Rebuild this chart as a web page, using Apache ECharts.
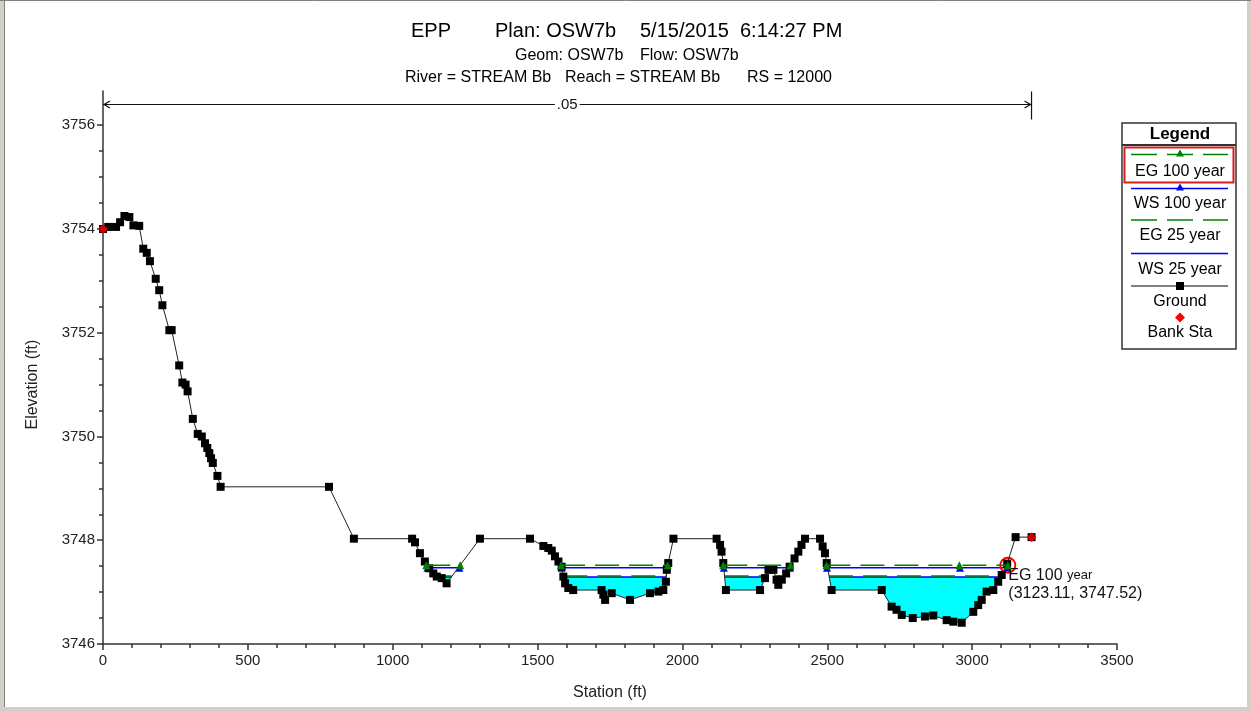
<!DOCTYPE html>
<html>
<head>
<meta charset="utf-8">
<script src="https://cdn.jsdelivr.net/npm/echarts@6/dist/echarts.min.js"></script>
<style>
html,body{margin:0;padding:0;background:#fff;}
#chart{width:1251px;height:711px;}
</style>
</head>
<body>
<div id="chart"></div>
<script>
// ---------------- DATA ----------------
const titleParts = [
  ['EPP', 'Plan: OSW7b', '5/15/2015', '6:14:27 PM'],
  ['Geom: OSW7b', 'Flow: OSW7b'],
  ['River = STREAM Bb', 'Reach = STREAM Bb', 'RS = 12000']
];
const xAxisName = 'Station (ft)';
const yAxisName = 'Elevation (ft)';
const xRange = [0, 3500, 500];
const yRange = [3746, 3756, 2];
const yAxisTop = 3756.66;

const groundPoints = [
  [0, 3754.00], [18, 3754.04], [45, 3754.04], [59, 3754.13], [74, 3754.25], [91, 3754.23],
  [105, 3754.07], [125, 3754.06], [139, 3753.62], [151, 3753.54], [162, 3753.38], [182, 3753.04],
  [194, 3752.82], [205, 3752.53], [229, 3752.05], [237, 3752.05], [263, 3751.37], [274, 3751.04],
  [285, 3751.00], [292, 3750.87], [310, 3750.34], [327, 3750.05], [341, 3750.00], [352, 3749.87],
  [360, 3749.78], [367, 3749.68], [373, 3749.58], [379, 3749.49], [395, 3749.24], [406, 3749.03],
  [780, 3749.03], [866, 3748.03], [1067, 3748.03], [1077, 3747.96], [1094, 3747.75], [1111, 3747.59],
  [1126, 3747.46], [1140, 3747.36], [1152, 3747.30], [1169, 3747.27], [1186, 3747.17], [1301, 3748.03],
  [1474, 3748.03], [1520, 3747.89], [1537, 3747.85], [1549, 3747.80], [1560, 3747.69], [1572, 3747.59],
  [1583, 3747.49], [1589, 3747.30], [1595, 3747.17], [1606, 3747.08], [1623, 3747.04], [1721, 3747.04],
  [1727, 3746.95], [1733, 3746.85], [1756, 3746.98], [1819, 3746.85], [1888, 3746.98], [1917, 3747.01],
  [1934, 3747.04], [1943, 3747.20], [1946, 3747.43], [1951, 3747.56], [1969, 3748.03], [2118, 3748.03],
  [2130, 3747.91], [2135, 3747.78], [2141, 3747.56], [2150, 3747.04], [2268, 3747.04], [2285, 3747.27],
  [2297, 3747.43], [2314, 3747.43], [2325, 3747.24], [2331, 3747.14], [2343, 3747.24], [2358, 3747.36],
  [2370, 3747.49], [2387, 3747.65], [2400, 3747.78], [2411, 3747.91], [2423, 3748.03], [2475, 3748.03],
  [2484, 3747.88], [2492, 3747.75], [2498, 3747.56], [2515, 3747.04], [2688, 3747.04], [2722, 3746.72],
  [2739, 3746.66], [2757, 3746.56], [2795, 3746.50], [2837, 3746.53], [2866, 3746.55], [2912, 3746.46],
  [2935, 3746.43], [2964, 3746.41], [3004, 3746.62], [3021, 3746.75], [3033, 3746.85], [3050, 3747.01],
  [3073, 3747.04], [3090, 3747.20], [3102, 3747.33], [3121, 3747.55], [3150, 3748.06], [3205, 3748.06]
];
const bankStations = [[0, 3754.00], [3205, 3748.06]];

const profileNames = ['EG 100 year', 'WS 100 year', 'EG 25 year', 'WS 25 year', 'Ground', 'Bank Sta'];
const eg100Elev = 3747.52;
const ws100Elev = 3747.47;
const eg25Elev = 3747.31;
const ws25Elev = 3747.29;
const eg100Stations = [[1116, 1233], [1581, 1949], [2141, 2373], [2497, 2956, 3123.11]];
const ws100Stations = [[1120, 1230], [1583, 1947], [2143, 2371], [2499, 2958, 3121]];
const eg25Stations = [[1153, 1203], [1589, 1944], [2146, 2287], [2321, 2350], [2506, 3099]];
const ws25Stations = [[1153, 1203], [1589, 1944], [2146, 2287], [2321, 2350], [2506, 3099]];

const mannN = { label: '.05', from: 0, to: 3205, elev: 3756.4 };
const highlight = { name: 'EG 100 year', station: 3123.11, elev: 3747.52 };

// ---------------- STYLE ----------------
const FONT = 'Liberation Sans, Arial, sans-serif';
const GREEN = '#008000', BLUE = '#0000ff', CYAN = '#00ffff', RED = '#ff0000', AXIS = '#333';

function profileData(segs, elev) {
  const out = [];
  segs.forEach((s, i) => {
    if (i) out.push(['-', '-']);
    s.forEach(x => out.push([x, elev]));
  });
  return out;
}

const chart = echarts.init(document.getElementById('chart'), null, { renderer: 'canvas' });

// Graphic: titles
const graphics = [];
const titlePos = [
  { y: 31, size: 20, xs: [411, 495, 640, 740] },
  { y: 56, size: 16, xs: [515, 640] },
  { y: 78, size: 16, xs: [405, 565, 747] }
];
titleParts.forEach((parts, li) => {
  parts.forEach((t, i) => {
    graphics.push({
      type: 'text', x: titlePos[li].xs[i], y: titlePos[li].y, silent: true,
      style: { text: t, font: titlePos[li].size + 'px ' + FONT, fill: '#000',
        align: 'left', verticalAlign: 'middle', textAlign: 'left', textVerticalAlign: 'middle' }
    });
  });
});

// Legend box
const LX = 1122, LY = 123, LW = 114, LH = 226, LC = 1180;
graphics.push({ type: 'rect', shape: { x: LX, y: LY, width: LW, height: LH },
  style: { fill: '#fff', stroke: AXIS, lineWidth: 1.5 }, z: 10 });
graphics.push({ type: 'text', x: LC, y: 134, z: 11,
  style: { text: 'Legend', font: 'bold 17px ' + FONT, fill: '#000', align: 'center', verticalAlign: 'middle', textAlign: 'center', textVerticalAlign: 'middle' } });
graphics.push({ type: 'line', shape: { x1: LX, y1: 145, x2: LX + LW, y2: 145 }, style: { stroke: AXIS, lineWidth: 2 }, z: 11 });
graphics.push({ type: 'rect', shape: { x: 1124.5, y: 147.5, width: 109, height: 35 },
  style: { fill: 'none', stroke: '#d02020', lineWidth: 2 }, z: 12 });

const legendRows = [
  { line: 154.5, text: 171.5, color: GREEN, dash: [26, 10], sym: 'tri' },
  { line: 188.5, text: 203.5, color: BLUE, dash: null, sym: 'tri' },
  { line: 220, text: 236, color: GREEN, dash: [26, 10], sym: null },
  { line: 253.5, text: 269.5, color: BLUE, dash: null, sym: null },
  { line: 286, text: 302, color: '#000', dash: null, sym: 'sq' },
  { line: 317.5, text: 333, color: RED, dash: null, sym: 'dia', noLine: true }
];
legendRows.forEach((r, i) => {
  if (!r.noLine) {
    graphics.push({ type: 'line', z: 11, shape: { x1: 1131, y1: r.line, x2: 1228, y2: r.line },
      style: { stroke: r.color, lineWidth: r.color === '#000' ? 1 : 1.5, lineDash: r.dash || null } });
  }
  if (r.sym === 'tri') {
    graphics.push({ type: 'polygon', z: 12, shape: { points: [[LC, r.line - 5], [LC - 4, r.line + 2], [LC + 4, r.line + 2]] },
      style: { fill: r.color } });
  } else if (r.sym === 'sq') {
    graphics.push({ type: 'rect', z: 12, shape: { x: LC - 4, y: r.line - 4, width: 8, height: 8 }, style: { fill: '#000' } });
  } else if (r.sym === 'dia') {
    graphics.push({ type: 'polygon', z: 12, shape: { points: [[LC, r.line - 5], [LC + 5, r.line], [LC, r.line + 5], [LC - 5, r.line]] },
      style: { fill: RED } });
  }
  graphics.push({ type: 'text', x: LC, y: r.text, z: 12,
    style: { text: profileNames[i], font: '16px ' + FONT, fill: '#000', align: 'center', verticalAlign: 'middle', textAlign: 'center', textVerticalAlign: 'middle' } });
});

// window frame
graphics.push({ type: 'rect', shape: { x: 0, y: 0, width: 4, height: 711 }, style: { fill: '#d4d0c8' }, z: 20 });
graphics.push({ type: 'line', shape: { x1: 4.5, y1: 0, x2: 4.5, y2: 711 }, style: { stroke: '#808080', lineWidth: 1 }, z: 20 });
graphics.push({ type: 'rect', shape: { x: 1247, y: 0, width: 4, height: 711 }, style: { fill: '#d4d0c8' }, z: 20 });
graphics.push({ type: 'line', shape: { x1: 0, y1: 0.5, x2: 1251, y2: 0.5 }, style: { stroke: '#808080', lineWidth: 1 }, z: 20 });
graphics.push({ type: 'rect', shape: { x: 0, y: 707, width: 1251, height: 4 }, style: { fill: '#d4d0c8' }, z: 20 });

const plain = v => String(v);
const axisFont = { fontFamily: FONT, fontSize: 15, color: '#222', formatter: plain };
const nameFont = { fontFamily: FONT, fontSize: 16, color: '#222' };

const option = {
  animation: false,
  backgroundColor: '#fff',
  grid: [
    { left: 103, right: 134, top: 91, bottom: 67 },
    { left: 103, right: 134, top: 91 + (yAxisTop - yRange[1]) * (553 / (yAxisTop - yRange[0])), bottom: 67 }
  ],
  xAxis: [
    { type: 'value', gridIndex: 0, min: xRange[0], max: xRange[1], interval: xRange[2],
      axisLine: { onZero: false, lineStyle: { color: AXIS, width: 1.5 } },
      axisTick: { show: true, length: 6, lineStyle: { color: AXIS, width: 1.5 } },
      minorTick: { show: true, splitNumber: 5, length: 4, lineStyle: { color: AXIS, width: 1.5 } },
      axisLabel: Object.assign({ margin: 9 }, axisFont),
      splitLine: { show: false }, minorSplitLine: { show: false },
      name: xAxisName, nameLocation: 'middle', nameGap: 41, nameTextStyle: nameFont },
    { type: 'value', gridIndex: 1, min: xRange[0], max: xRange[1], show: false }
  ],
  yAxis: [
    { type: 'value', gridIndex: 0, min: yRange[0], max: yAxisTop,
      axisLine: { show: true, onZero: false, lineStyle: { color: AXIS, width: 1.5 } },
      axisTick: { show: false }, axisLabel: { show: false }, splitLine: { show: false } },
    { type: 'value', gridIndex: 1, min: yRange[0], max: yRange[1], interval: yRange[2],
      axisLine: { show: false },
      axisTick: { show: true, length: 6, lineStyle: { color: AXIS, width: 1.5 } },
      minorTick: { show: true, splitNumber: 4, length: 4, lineStyle: { color: AXIS, width: 1.5 } },
      axisLabel: Object.assign({ margin: 8 }, axisFont),
      splitLine: { show: false }, minorSplitLine: { show: false },
      name: yAxisName, nameLocation: 'middle', nameGap: 62, nameTextStyle: nameFont }
  ],
  graphic: { elements: graphics },
  series: [
    { // water fill below WS 25 year
      type: 'custom', name: 'fill', z: 1, silent: true,
      data: ws25Stations.map(s => [s[0], s[s.length - 1], ws25Elev]),
      encode: { x: [0, 1], y: 2 },
      renderItem: function (params, api) {
        const s0 = api.value(0), s1 = api.value(1), e = api.value(2);
        const pts = [[s0, e]].concat(groundPoints.filter(p => p[0] > s0 && p[0] < s1)).concat([[s1, e]]);
        return { type: 'polygon', shape: { points: pts.map(p => api.coord(p)) }, style: { fill: CYAN } };
      }
    },
    { type: 'line', name: 'WS 25 year', z: 2, data: profileData(ws25Stations, ws25Elev),
      symbol: 'none', lineStyle: { color: BLUE, width: 1.5 }, silent: true },
    { type: 'line', name: 'EG 25 year', z: 3, data: profileData(eg25Stations, eg25Elev),
      symbol: 'none', lineStyle: { color: GREEN, width: 1.5, type: [24, 10] }, silent: true },
    { type: 'line', name: 'WS 100 year', z: 4, data: profileData(ws100Stations, ws100Elev),
      symbol: 'triangle', symbolSize: 8, itemStyle: { color: BLUE }, showAllSymbol: true,
      lineStyle: { color: BLUE, width: 1.5 }, silent: true },
    { type: 'line', name: 'Ground', z: 5, data: groundPoints,
      symbol: 'rect', symbolSize: 8, showAllSymbol: true, itemStyle: { color: '#000' },
      lineStyle: { color: '#222', width: 1 }, silent: true },
    { type: 'line', name: 'EG 100 year', z: 6, data: profileData(eg100Stations, eg100Elev),
      symbol: 'triangle', symbolSize: 8, itemStyle: { color: GREEN }, showAllSymbol: true,
      lineStyle: { color: GREEN, width: 1.5, type: [24, 10] }, silent: true,
      markPoint: {
        silent: true,
        symbol: 'circle', symbolSize: 15,
        itemStyle: { color: 'rgba(0,0,0,0)', borderColor: RED, borderWidth: 2 },
        data: [{ coord: [highlight.station, highlight.elev] }],
        label: {
          show: true, position: [9, 10], align: 'left', verticalAlign: 'top',
          formatter: () => '{a|' + highlight.name.replace(' year', ' ') + '}{b|year}\n{a|(' + highlight.station.toFixed(2) + ', ' + highlight.elev.toFixed(2) + ')}',
          rich: {
            a: { fontFamily: FONT, fontSize: 16, color: '#111', lineHeight: 18 },
            b: { fontFamily: FONT, fontSize: 13, color: '#111', lineHeight: 18 }
          }
        }
      }
    },
    { type: 'scatter', name: 'Bank Sta', z: 7, data: bankStations,
      symbol: 'diamond', symbolSize: 10, itemStyle: { color: RED }, silent: true },
    { // Manning's n annotation
      type: 'custom', name: 'n', z: 4, silent: true,
      data: [[mannN.from, mannN.to, mannN.elev]],
      encode: { x: [0, 1], y: 2 },
      renderItem: function (params, api) {
        const p0 = api.coord([api.value(0), api.value(2)]);
        const p1 = api.coord([api.value(1), api.value(2)]);
        const y = p0[1], mid = (p0[0] + p1[0]) / 2;
        const st = { stroke: '#111', lineWidth: 1.2, fill: 'none' };
        return {
          type: 'group', children: [
            { type: 'line', shape: { x1: p0[0], y1: y, x2: p1[0], y2: y }, style: st },
            { type: 'line', shape: { x1: p1[0], y1: y - 13, x2: p1[0], y2: y + 15 }, style: st },
            { type: 'polyline', shape: { points: [[p0[0] + 7, y - 3.5], [p0[0] + 1, y], [p0[0] + 7, y + 3.5]] }, style: st },
            { type: 'polyline', shape: { points: [[p1[0] - 7, y - 3.5], [p1[0] - 1, y], [p1[0] - 7, y + 3.5]] }, style: st },
            { type: 'text', x: mid, y: y,
              style: { text: mannN.label, font: '15px ' + FONT, fill: '#111', backgroundColor: '#fff', padding: [0, 2],
                align: 'center', verticalAlign: 'middle', textAlign: 'center', textVerticalAlign: 'middle' } }
          ]
        };
      }
    }
  ]
};
chart.setOption(option);
</script>
</body>
</html>
